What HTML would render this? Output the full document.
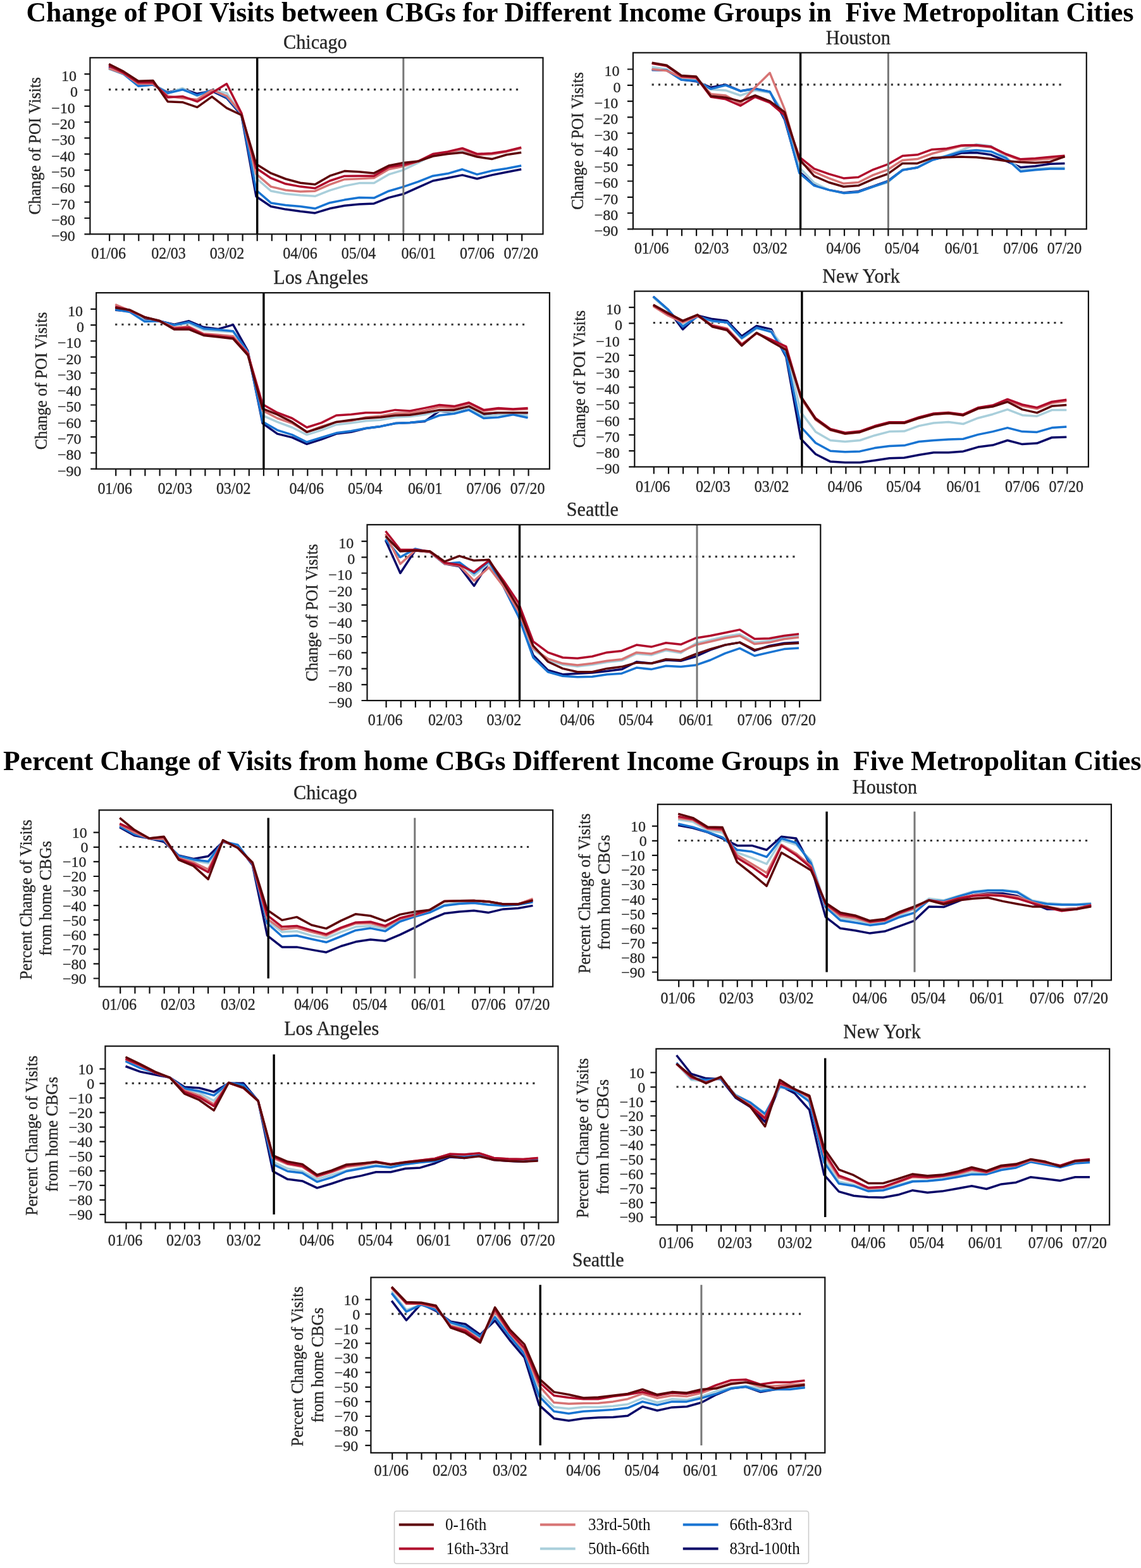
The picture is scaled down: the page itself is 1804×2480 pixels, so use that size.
<!DOCTYPE html>
<html><head><meta charset="utf-8"><title>Change of POI Visits</title>
<style>html,body{margin:0;padding:0;background:#fff;}svg{display:block;}#wrap{width:1804px;height:2480px;overflow:hidden;}</style>
</head><body><div id="wrap">
<svg width="1804" height="2480" viewBox="0 0 1804 2480">
<rect width="1804" height="2480" fill="#fff"/>
<text x="41.5" y="34" font-family="'Liberation Serif', 'Times New Roman', serif" font-weight="bold" font-size="43.6" fill="#000" textLength="1751" lengthAdjust="spacingAndGlyphs" xml:space="preserve">Change of POI Visits between CBGs for Different Income Groups in  Five Metropolitan Cities</text>
<text x="5" y="1218" font-family="'Liberation Serif', 'Times New Roman', serif" font-weight="bold" font-size="43.6" fill="#000" textLength="1799.5" lengthAdjust="spacingAndGlyphs" xml:space="preserve">Percent Change of Visits from home CBGs Different Income Groups in  Five Metropolitan Cities</text>
<g font-family="'Liberation Serif', 'Times New Roman', serif" font-size="24" fill="#262626" stroke="#262626" stroke-width="0.3"><text transform="translate(498.4,77.4) scale(1,1.035)" text-anchor="middle" font-size="30.2">Chicago</text><line x1="172" y1="141.6" x2="822.2" y2="141.6" stroke="#383838" stroke-width="3.1" stroke-dasharray="3.2 7.02"/><polyline points="172.1,105.8 195.4,115.9 218.7,134.9 242,133.9 265.3,146.3 288.5,140.5 311.8,148.3 335.1,144 358.4,155.2 381.7,182 405,310.8 428.3,326.5 451.6,331.1 474.9,334.3 498.1,336.9 521.4,329.8 544.7,325.2 568,323 591.3,321.9 614.6,312.6 637.9,306.8 661.2,296.4 684.5,286 707.8,281.5 731,276.9 754.3,282.7 777.6,276.9 800.9,272.3 824.2,267.8" fill="none" stroke="#0a0868" stroke-width="3.5" stroke-linejoin="round"/><polyline points="172.1,109.1 195.4,117.2 218.7,132.6 242,132.6 265.3,147.3 288.5,139.5 311.8,151.9 335.1,142.5 358.4,147.3 381.7,180.5 405,281.7 428.3,302 451.6,306.5 474.9,308.8 498.1,310.3 521.4,301.2 544.7,294.1 568,289.6 591.3,289.6 614.6,275.9 637.9,268.8 661.2,257.4 684.5,245 707.8,241.2 731,237.4 754.3,245 777.6,243.7 800.9,239.9 824.2,234.4" fill="none" stroke="#a9cfdb" stroke-width="3.5" stroke-linejoin="round"/><polyline points="172.1,108.1 195.4,117.2 218.7,136.2 242,133.9 265.3,147.3 288.5,141.7 311.8,150.6 335.1,142.5 358.4,153.9 381.7,180.5 405,300.7 428.3,320.9 451.6,324.5 474.9,326.5 498.1,329.8 521.4,320.7 544.7,316.1 568,312.6 591.3,313.1 614.6,302.2 637.9,295.4 661.2,287.3 684.5,278.2 707.8,274.6 731,267.8 754.3,275.9 777.6,270.1 800.9,266.5 824.2,262" fill="none" stroke="#1874d2" stroke-width="3.5" stroke-linejoin="round"/><polyline points="172.1,108.1 195.4,116.4 218.7,132.6 242,132.6 265.3,151.9 288.5,155.2 311.8,157.4 335.1,142.5 358.4,151.9 381.7,179.2 405,275.1 428.3,295.1 451.6,300.7 474.9,303 498.1,302.2 521.4,291.8 544.7,283.7 568,282.7 591.3,281.5 614.6,267.8 637.9,263 661.2,255.1 684.5,244.8 707.8,241.2 731,236.1 754.3,245 777.6,243.7 800.9,239.9 824.2,234.4" fill="none" stroke="#d77474" stroke-width="3.5" stroke-linejoin="round"/><polyline points="172.1,103.5 195.4,115.2 218.7,130.6 242,130.6 265.3,154.1 288.5,152.4 311.8,160.7 335.1,146.8 358.4,132.6 381.7,178.7 405,266 428.3,281.7 451.6,290.8 474.9,295.1 498.1,297.7 521.4,286 544.7,278.4 568,278.2 591.3,278.2 614.6,264.2 637.9,260.7 661.2,255.1 684.5,243.5 707.8,239.9 731,234.4 754.3,243.5 777.6,242.5 800.9,238.9 824.2,233.1" fill="none" stroke="#b00c2c" stroke-width="3.5" stroke-linejoin="round"/><polyline points="172.1,101.2 195.4,113.1 218.7,128.3 242,127.6 265.3,160.7 288.5,161.7 311.8,169.6 335.1,152.9 358.4,170.8 381.7,182 405,259.4 428.3,273.9 451.6,283 474.9,289.3 498.1,291.8 521.4,278.2 544.7,270.6 568,271.8 591.3,273.9 614.6,262 637.9,257.4 661.2,255.1 684.5,247 707.8,243.5 731,241.2 754.3,248 777.6,251.6 800.9,244.8 824.2,241.2" fill="none" stroke="#5e0509" stroke-width="3.5" stroke-linejoin="round"/><line x1="637.8" y1="91.3" x2="637.8" y2="370.3" stroke="#777" stroke-width="3"/><line x1="406.7" y1="91.3" x2="406.7" y2="370.3" stroke="#000" stroke-width="3.4"/><rect x="142.4" y="91.3" width="716.1" height="279" fill="none" stroke="#111" stroke-width="2.2"/><path d="M173.1 370.3v11M196.2 370.3v11M219.3 370.3v11M242.4 370.3v11M268 370.3v11M291.2 370.3v11M314.3 370.3v11M337.4 370.3v11M360.5 370.3v11M383.6 370.3v11M406.7 370.3v11M429.8 370.3v11M452.9 370.3v11M476 370.3v11M499.1 370.3v11M522.3 370.3v11M545.4 370.3v11M568.5 370.3v11M591.6 370.3v11M614.7 370.3v11M637.8 370.3v11M663.4 370.3v11M686.5 370.3v11M709.6 370.3v11M732.8 370.3v11M755.9 370.3v11M779 370.3v11M802.1 370.3v11M825.2 370.3v11M133.4 117.2h9M133.4 142.5h9M133.4 167.8h9M133.4 193.1h9M133.4 218.4h9M133.4 243.7h9M133.4 269.1h9M133.4 294.4h9M133.4 319.7h9M133.4 345h9M133.4 370.3h9" stroke="#111" stroke-width="2.2"/><text transform="translate(171.6,409.4) scale(1,1.04)" text-anchor="middle">01/06</text><text transform="translate(266.5,409.4) scale(1,1.04)" text-anchor="middle">02/03</text><text transform="translate(359,409.4) scale(1,1.04)" text-anchor="middle">03/02</text><text transform="translate(474.5,409.4) scale(1,1.04)" text-anchor="middle">04/06</text><text transform="translate(567,409.4) scale(1,1.04)" text-anchor="middle">05/04</text><text transform="translate(661.9,409.4) scale(1,1.04)" text-anchor="middle">06/01</text><text transform="translate(754.4,409.4) scale(1,1.04)" text-anchor="middle">07/06</text><text transform="translate(823.7,409.4) scale(1,1.04)" text-anchor="middle">07/20</text><text transform="translate(121.1,128)" text-anchor="end">10</text><text transform="translate(123.1,153.3)" text-anchor="end">0</text><text transform="translate(118.8,178.7)" text-anchor="end">−10</text><text transform="translate(118.8,204)" text-anchor="end">−20</text><text transform="translate(118.8,229.3)" text-anchor="end">−30</text><text transform="translate(118.8,254.6)" text-anchor="end">−40</text><text transform="translate(118.8,279.9)" text-anchor="end">−50</text><text transform="translate(118.8,305.2)" text-anchor="end">−60</text><text transform="translate(118.8,330.5)" text-anchor="end">−70</text><text transform="translate(118.8,355.8)" text-anchor="end">−80</text><text transform="translate(118.8,381.1)" text-anchor="end">−90</text><text transform="translate(63.9,230.8) rotate(-90) scale(1,1.03)" text-anchor="middle" font-size="25.6">Change of POI Visits</text></g>
<g font-family="'Liberation Serif', 'Times New Roman', serif" font-size="24" fill="#262626" stroke="#262626" stroke-width="0.3"><text transform="translate(1356.8,69.5) scale(1,1.035)" text-anchor="middle" font-size="30.2">Houston</text><line x1="1030.6" y1="133.9" x2="1681.5" y2="133.9" stroke="#383838" stroke-width="3.1" stroke-dasharray="3.2 7.02"/><polyline points="1030.7,110.5 1054,111 1077.3,125.7 1100.6,128.7 1124,138.3 1147.3,134 1170.6,143.9 1193.9,140.1 1217.2,145.2 1240.5,188.9 1263.8,271.8 1287.2,292 1310.5,300.4 1333.8,304.7 1357.1,302.7 1380.4,294.6 1403.7,286.5 1427,268.8 1450.4,265 1473.7,252.4 1497,248.1 1520.3,242 1543.6,241.5 1566.9,244.8 1590.2,254.4 1613.6,264.7 1636.9,262.7 1660.2,259.2 1683.5,258.4" fill="none" stroke="#0a0868" stroke-width="3.5" stroke-linejoin="round"/><polyline points="1030.7,106 1054,109.5 1077.3,124.4 1100.6,125.7 1124,141.6 1147.3,142.9 1170.6,151 1193.9,142.9 1217.2,146.4 1240.5,179.8 1263.8,265 1287.2,289 1310.5,300.4 1333.8,305.4 1357.1,303.7 1380.4,295.3 1403.7,288.5 1427,268.3 1450.4,265 1473.7,251.6 1497,246 1520.3,237.4 1543.6,228.3 1566.9,230.9 1590.2,248.1 1613.6,269.3 1636.9,267 1660.2,265.2 1683.5,265.2" fill="none" stroke="#a9cfdb" stroke-width="3.5" stroke-linejoin="round"/><polyline points="1030.7,110.5 1054,111 1077.3,126.2 1100.6,128 1124,140.6 1147.3,134.8 1170.6,143.9 1193.9,140.6 1217.2,145.2 1240.5,186.6 1263.8,273.6 1287.2,293.6 1310.5,300.4 1333.8,305.4 1357.1,303.7 1380.4,295.3 1403.7,287 1427,269 1450.4,265 1473.7,253.4 1497,246.8 1520.3,239.7 1543.6,237.4 1566.9,239.7 1590.2,249.8 1613.6,271.3 1636.9,268.8 1660.2,267 1683.5,267" fill="none" stroke="#1874d2" stroke-width="3.5" stroke-linejoin="round"/><polyline points="1030.7,109.5 1054,111.8 1077.3,122.2 1100.6,123.4 1124,148.7 1147.3,151 1170.6,163.6 1193.9,138.3 1217.2,115.3 1240.5,172.7 1263.8,254.9 1287.2,271.8 1310.5,281.9 1333.8,290.3 1357.1,288.5 1380.4,276.9 1403.7,268.3 1427,253.4 1450.4,251.6 1473.7,243 1497,236.7 1520.3,230.9 1543.6,230.4 1566.9,232.9 1590.2,244.3 1613.6,253.6 1636.9,253.1 1660.2,251.1 1683.5,247.5" fill="none" stroke="#d77474" stroke-width="3.5" stroke-linejoin="round"/><polyline points="1030.7,100.2 1054,104.2 1077.3,120.4 1100.6,122.2 1124,153.3 1147.3,156.8 1170.6,167.2 1193.9,153.3 1217.2,162.4 1240.5,182.1 1263.8,248.3 1287.2,266.8 1310.5,275.1 1333.8,281.9 1357.1,280.2 1380.4,268.3 1403.7,259.9 1427,246.5 1450.4,244.8 1473.7,236.4 1497,234.9 1520.3,229.9 1543.6,229.6 1566.9,232.1 1590.2,243.5 1613.6,251.8 1636.9,250.6 1660.2,248.3 1683.5,246.3" fill="none" stroke="#b00c2c" stroke-width="3.5" stroke-linejoin="round"/><polyline points="1030.7,99.2 1054,103.2 1077.3,119.4 1100.6,120.9 1124,152 1147.3,154.3 1170.6,160.1 1193.9,151 1217.2,160.1 1240.5,177.3 1263.8,251.6 1287.2,278.4 1310.5,288.5 1333.8,295.3 1357.1,293.6 1380.4,283.4 1403.7,275.1 1427,258.4 1450.4,258.4 1473.7,249.8 1497,248.8 1520.3,248.1 1543.6,248.8 1566.9,251.3 1590.2,254.4 1613.6,256.6 1636.9,257.4 1660.2,255.9 1683.5,247.5" fill="none" stroke="#5e0509" stroke-width="3.5" stroke-linejoin="round"/><line x1="1404.4" y1="83.4" x2="1404.4" y2="362.3" stroke="#777" stroke-width="3"/><line x1="1265.6" y1="83.4" x2="1265.6" y2="362.3" stroke="#000" stroke-width="3.4"/><rect x="1000.9" y="83.4" width="716.9" height="278.9" fill="none" stroke="#111" stroke-width="2.2"/><path d="M1031.7 362.3v11M1054.8 362.3v11M1078 362.3v11M1101.1 362.3v11M1126.7 362.3v11M1149.9 362.3v11M1173 362.3v11M1196.2 362.3v11M1219.3 362.3v11M1242.4 362.3v11M1265.6 362.3v11M1288.7 362.3v11M1311.8 362.3v11M1335 362.3v11M1358.1 362.3v11M1381.2 362.3v11M1404.4 362.3v11M1427.5 362.3v11M1450.6 362.3v11M1473.8 362.3v11M1496.9 362.3v11M1522.5 362.3v11M1545.7 362.3v11M1568.8 362.3v11M1592 362.3v11M1615.1 362.3v11M1638.2 362.3v11M1661.4 362.3v11M1684.5 362.3v11M991.9 109.5h9M991.9 134.8h9M991.9 160.1h9M991.9 185.4h9M991.9 210.6h9M991.9 235.9h9M991.9 261.2h9M991.9 286.5h9M991.9 311.8h9M991.9 337h9M991.9 362.3h9" stroke="#111" stroke-width="2.2"/><text transform="translate(1030.2,401.4) scale(1,1.04)" text-anchor="middle">01/06</text><text transform="translate(1125.2,401.4) scale(1,1.04)" text-anchor="middle">02/03</text><text transform="translate(1217.8,401.4) scale(1,1.04)" text-anchor="middle">03/02</text><text transform="translate(1333.5,401.4) scale(1,1.04)" text-anchor="middle">04/06</text><text transform="translate(1426,401.4) scale(1,1.04)" text-anchor="middle">05/04</text><text transform="translate(1521,401.4) scale(1,1.04)" text-anchor="middle">06/01</text><text transform="translate(1613.6,401.4) scale(1,1.04)" text-anchor="middle">07/06</text><text transform="translate(1683,401.4) scale(1,1.04)" text-anchor="middle">07/20</text><text transform="translate(979.6,120.4)" text-anchor="end">10</text><text transform="translate(981.6,145.7)" text-anchor="end">0</text><text transform="translate(977.3,170.9)" text-anchor="end">−10</text><text transform="translate(977.3,196.2)" text-anchor="end">−20</text><text transform="translate(977.3,221.5)" text-anchor="end">−30</text><text transform="translate(977.3,246.8)" text-anchor="end">−40</text><text transform="translate(977.3,272.1)" text-anchor="end">−50</text><text transform="translate(977.3,297.3)" text-anchor="end">−60</text><text transform="translate(977.3,322.6)" text-anchor="end">−70</text><text transform="translate(977.3,347.9)" text-anchor="end">−80</text><text transform="translate(977.3,373.2)" text-anchor="end">−90</text><text transform="translate(922.4,222.9) rotate(-90) scale(1,1.03)" text-anchor="middle" font-size="25.6">Change of POI Visits</text></g>
<g font-family="'Liberation Serif', 'Times New Roman', serif" font-size="24" fill="#262626" stroke="#262626" stroke-width="0.3"><text transform="translate(507.3,449.2) scale(1,1.035)" text-anchor="middle" font-size="30.2">Los Angeles</text><line x1="182.1" y1="513.2" x2="832.6" y2="513.2" stroke="#383838" stroke-width="3.1" stroke-dasharray="3.2 7.02"/><polyline points="182.2,490.3 205.5,492.4 228.8,506 252.1,507.8 275.4,513.3 298.7,507.8 322,517.6 345.3,520.4 368.6,513.6 391.9,555.1 415.2,669.6 438.5,686.1 461.8,691.9 485.1,702.3 508.4,694.9 531.7,686.1 555,683.3 578.3,677.5 601.6,674.4 624.9,669.6 648.2,668.6 671.5,666.6 694.8,649.9 718.1,652.7 741.4,644.1 764.7,655.7 788,652.7 811.3,652.7 834.6,652.7" fill="none" stroke="#0a0868" stroke-width="3.5" stroke-linejoin="round"/><polyline points="182.2,484.3 205.5,491.3 228.8,507.3 252.1,508.5 275.4,514.1 298.7,511.3 322,522.2 345.3,523.7 368.6,525 391.9,557.1 415.2,657.2 438.5,667.4 461.8,676 485.1,687.6 508.4,680.3 531.7,671.7 555,668.9 578.3,665.8 601.6,664.3 624.9,660 648.2,658.8 671.5,655.7 694.8,649.9 718.1,651.4 741.4,644.1 764.7,658.5 788,655.7 811.3,654.5 834.6,657.2" fill="none" stroke="#a9cfdb" stroke-width="3.5" stroke-linejoin="round"/><polyline points="182.2,489.6 205.5,493.6 228.8,508.5 252.1,507.8 275.4,514.1 298.7,509.5 322,519.7 345.3,521.4 368.6,523.7 391.9,556.6 415.2,666.9 438.5,680.3 461.8,687.6 485.1,699.2 508.4,691.9 531.7,684.8 555,681.8 578.3,677.5 601.6,674.4 624.9,669.6 648.2,668.6 671.5,665.8 694.8,657 718.1,654.2 741.4,648.4 764.7,661.5 788,660 811.3,655.7 834.6,660.8" fill="none" stroke="#1874d2" stroke-width="3.5" stroke-linejoin="round"/><polyline points="182.2,481.5 205.5,491.3 228.8,501.7 252.1,507.8 275.4,518.1 298.7,516.6 322,527.8 345.3,529.5 368.6,531.8 391.9,558.4 415.2,649.1 438.5,661.5 461.8,669.6 485.1,683.3 508.4,674.4 531.7,667.4 555,665.6 578.3,660 601.6,658 624.9,653.7 648.2,653.2 671.5,649.4 694.8,643.6 718.1,645.1 741.4,638.3 764.7,649.9 788,646.9 811.3,648.1 834.6,646.9" fill="none" stroke="#d77474" stroke-width="3.5" stroke-linejoin="round"/><polyline points="182.2,485.3 205.5,490.8 228.8,501.7 252.1,507.8 275.4,519.7 298.7,518.1 322,529.3 345.3,531.8 368.6,534.6 391.9,559.6 415.2,639.5 438.5,652.7 461.8,661.5 485.1,676 508.4,668.6 531.7,657 555,655.5 578.3,652.7 601.6,652.7 624.9,648.4 648.2,649.9 671.5,645.4 694.8,640.5 718.1,642.6 741.4,636.8 764.7,648.4 788,645.4 811.3,646.9 834.6,645.4" fill="none" stroke="#b00c2c" stroke-width="3.5" stroke-linejoin="round"/><polyline points="182.2,486.8 205.5,490.3 228.8,501.7 252.1,507.3 275.4,520.9 298.7,520.9 322,530.5 345.3,533.1 368.6,535.8 391.9,561.9 415.2,646.4 438.5,655.7 461.8,667.4 485.1,683.3 508.4,676 531.7,667.4 555,664.3 578.3,661.5 601.6,660 624.9,657 648.2,656.2 671.5,652.7 694.8,648.4 718.1,648.4 741.4,642.6 764.7,654.2 788,652.7 811.3,652.7 834.6,652.7" fill="none" stroke="#5e0509" stroke-width="3.5" stroke-linejoin="round"/><line x1="416.9" y1="463.1" x2="416.9" y2="741.7" stroke="#000" stroke-width="3.4"/><rect x="152.2" y="463.1" width="716.7" height="278.6" fill="none" stroke="#111" stroke-width="2.2"/><path d="M183.2 741.7v11M206.3 741.7v11M229.4 741.7v11M252.6 741.7v11M278.2 741.7v11M301.3 741.7v11M324.4 741.7v11M347.6 741.7v11M370.7 741.7v11M393.8 741.7v11M416.9 741.7v11M440 741.7v11M463.2 741.7v11M486.3 741.7v11M509.4 741.7v11M532.5 741.7v11M555.6 741.7v11M578.8 741.7v11M601.9 741.7v11M625 741.7v11M648.1 741.7v11M673.8 741.7v11M696.9 741.7v11M720 741.7v11M743.1 741.7v11M766.2 741.7v11M789.4 741.7v11M812.5 741.7v11M835.6 741.7v11M143.2 488.8h9M143.2 514.1h9M143.2 539.4h9M143.2 564.7h9M143.2 590h9M143.2 615.3h9M143.2 640.5h9M143.2 665.8h9M143.2 691.1h9M143.2 716.4h9M143.2 741.7h9" stroke="#111" stroke-width="2.2"/><text transform="translate(181.7,780.8) scale(1,1.04)" text-anchor="middle">01/06</text><text transform="translate(276.7,780.8) scale(1,1.04)" text-anchor="middle">02/03</text><text transform="translate(369.2,780.8) scale(1,1.04)" text-anchor="middle">03/02</text><text transform="translate(484.8,780.8) scale(1,1.04)" text-anchor="middle">04/06</text><text transform="translate(577.3,780.8) scale(1,1.04)" text-anchor="middle">05/04</text><text transform="translate(672.2,780.8) scale(1,1.04)" text-anchor="middle">06/01</text><text transform="translate(764.7,780.8) scale(1,1.04)" text-anchor="middle">07/06</text><text transform="translate(834.1,780.8) scale(1,1.04)" text-anchor="middle">07/20</text><text transform="translate(130.9,499.7)" text-anchor="end">10</text><text transform="translate(132.9,525)" text-anchor="end">0</text><text transform="translate(128.6,550.2)" text-anchor="end">−10</text><text transform="translate(128.6,575.5)" text-anchor="end">−20</text><text transform="translate(128.6,600.8)" text-anchor="end">−30</text><text transform="translate(128.6,626.1)" text-anchor="end">−40</text><text transform="translate(128.6,651.4)" text-anchor="end">−50</text><text transform="translate(128.6,676.7)" text-anchor="end">−60</text><text transform="translate(128.6,702)" text-anchor="end">−70</text><text transform="translate(128.6,727.3)" text-anchor="end">−80</text><text transform="translate(128.6,752.6)" text-anchor="end">−90</text><text transform="translate(73.7,602.4) rotate(-90) scale(1,1.03)" text-anchor="middle" font-size="25.6">Change of POI Visits</text></g>
<g font-family="'Liberation Serif', 'Times New Roman', serif" font-size="24" fill="#262626" stroke="#262626" stroke-width="0.3"><text transform="translate(1361.5,446.7) scale(1,1.035)" text-anchor="middle" font-size="30.2">New York</text><line x1="1032.7" y1="510.5" x2="1684.3" y2="510.5" stroke="#383838" stroke-width="3.1" stroke-dasharray="3.2 7.02"/><polyline points="1032.8,469 1056.1,489.5 1079.5,521 1102.8,499 1126.2,504.6 1149.5,507.4 1172.8,531.8 1196.2,515.4 1219.5,521 1242.9,564.4 1266.2,694 1289.5,718.2 1312.9,730.1 1336.2,731.6 1359.5,731.6 1382.9,728.3 1406.2,724.8 1429.6,724 1452.9,719.5 1476.2,715.7 1499.6,715.7 1522.9,713.9 1546.3,707.1 1569.6,704.1 1592.9,696.5 1616.3,702.6 1639.6,701.1 1663,692 1686.3,691.2" fill="none" stroke="#0a0868" stroke-width="3.5" stroke-linejoin="round"/><polyline points="1032.8,470.5 1056.1,490.7 1079.5,513.9 1102.8,500.1 1126.2,508.6 1149.5,509.9 1172.8,535.9 1196.2,519.5 1219.5,523.8 1242.9,553.5 1266.2,651.9 1289.5,682.9 1312.9,696.5 1336.2,698.5 1359.5,696.5 1382.9,688.7 1406.2,682.6 1429.6,682.1 1452.9,673.6 1476.2,669 1499.6,667.5 1522.9,670.5 1546.3,661.2 1569.6,655.2 1592.9,647.6 1616.3,656.7 1639.6,658.2 1663,648.6 1686.3,648.6" fill="none" stroke="#a9cfdb" stroke-width="3.5" stroke-linejoin="round"/><polyline points="1032.8,469 1056.1,489.5 1079.5,516.7 1102.8,500.6 1126.2,507.4 1149.5,509.9 1172.8,534.6 1196.2,518.2 1219.5,525 1242.9,561.8 1266.2,675.1 1289.5,700.5 1312.9,713.2 1336.2,714.7 1359.5,713.9 1382.9,708.6 1406.2,705.6 1429.6,704.6 1452.9,698.5 1476.2,696.5 1499.6,695 1522.9,694.2 1546.3,687.4 1569.6,682.6 1592.9,676.6 1616.3,682.6 1639.6,683.4 1663,676.6 1686.3,675.1" fill="none" stroke="#1874d2" stroke-width="3.5" stroke-linejoin="round"/><polyline points="1032.8,484.2 1056.1,499 1079.5,509.9 1102.8,499.8 1126.2,514.2 1149.5,519.5 1172.8,543.9 1196.2,527.5 1219.5,537.4 1242.9,551 1266.2,629.9 1289.5,664 1312.9,680.4 1336.2,686.2 1359.5,683.7 1382.9,675.3 1406.2,669.3 1429.6,669.3 1452.9,661.5 1476.2,655.4 1499.6,653.9 1522.9,656.9 1546.3,646.3 1569.6,642.5 1592.9,633 1616.3,642 1639.6,646.6 1663,637.5 1686.3,634.2" fill="none" stroke="#d77474" stroke-width="3.5" stroke-linejoin="round"/><polyline points="1032.8,482.6 1056.1,496.3 1079.5,507.9 1102.8,498.5 1126.2,515.4 1149.5,521 1172.8,545.4 1196.2,526.8 1219.5,537.4 1242.9,548.2 1266.2,627.2 1289.5,661.5 1312.9,678.4 1336.2,684.4 1359.5,682.1 1382.9,673.8 1406.2,667.8 1429.6,667.8 1452.9,659.9 1476.2,653.9 1499.6,652.4 1522.9,655.4 1546.3,644.8 1569.6,641 1592.9,631.4 1616.3,640 1639.6,644.6 1663,635.5 1686.3,632.2" fill="none" stroke="#b00c2c" stroke-width="3.5" stroke-linejoin="round"/><polyline points="1032.8,482.1 1056.1,495 1079.5,507.4 1102.8,497.8 1126.2,516.7 1149.5,522.2 1172.8,546.7 1196.2,526.3 1219.5,540.2 1242.9,553.5 1266.2,627.2 1289.5,662.7 1312.9,679.6 1336.2,685.7 1359.5,683.4 1382.9,675.1 1406.2,669 1429.6,669 1452.9,661.2 1476.2,655.2 1499.6,653.6 1522.9,656.7 1546.3,646.1 1569.6,643 1592.9,635.5 1616.3,647.6 1639.6,652.9 1663,642.3 1686.3,640.5" fill="none" stroke="#5e0509" stroke-width="3.5" stroke-linejoin="round"/><line x1="1267.9" y1="460.6" x2="1267.9" y2="738.4" stroke="#000" stroke-width="3.4"/><rect x="1003.3" y="460.6" width="717.6" height="277.8" fill="none" stroke="#111" stroke-width="2.2"/><path d="M1033.8 738.4v11M1057 738.4v11M1080.1 738.4v11M1103.3 738.4v11M1128.9 738.4v11M1152.1 738.4v11M1175.3 738.4v11M1198.4 738.4v11M1221.6 738.4v11M1244.7 738.4v11M1267.9 738.4v11M1291.1 738.4v11M1314.2 738.4v11M1337.4 738.4v11M1360.5 738.4v11M1383.7 738.4v11M1406.9 738.4v11M1430 738.4v11M1453.2 738.4v11M1476.4 738.4v11M1499.5 738.4v11M1525.2 738.4v11M1548.3 738.4v11M1571.5 738.4v11M1594.7 738.4v11M1617.8 738.4v11M1641 738.4v11M1664.1 738.4v11M1687.3 738.4v11M994.3 486.2h9M994.3 511.4h9M994.3 536.6h9M994.3 561.8h9M994.3 587.1h9M994.3 612.3h9M994.3 637.5h9M994.3 662.7h9M994.3 687.9h9M994.3 713.2h9M994.3 738.4h9" stroke="#111" stroke-width="2.2"/><text transform="translate(1032.3,777.5) scale(1,1.04)" text-anchor="middle">01/06</text><text transform="translate(1127.4,777.5) scale(1,1.04)" text-anchor="middle">02/03</text><text transform="translate(1220.1,777.5) scale(1,1.04)" text-anchor="middle">03/02</text><text transform="translate(1335.9,777.5) scale(1,1.04)" text-anchor="middle">04/06</text><text transform="translate(1428.5,777.5) scale(1,1.04)" text-anchor="middle">05/04</text><text transform="translate(1523.7,777.5) scale(1,1.04)" text-anchor="middle">06/01</text><text transform="translate(1616.3,777.5) scale(1,1.04)" text-anchor="middle">07/06</text><text transform="translate(1685.8,777.5) scale(1,1.04)" text-anchor="middle">07/20</text><text transform="translate(982,497)" text-anchor="end">10</text><text transform="translate(984,522.2)" text-anchor="end">0</text><text transform="translate(979.7,547.5)" text-anchor="end">−10</text><text transform="translate(979.7,572.7)" text-anchor="end">−20</text><text transform="translate(979.7,597.9)" text-anchor="end">−30</text><text transform="translate(979.7,623.1)" text-anchor="end">−40</text><text transform="translate(979.7,648.4)" text-anchor="end">−50</text><text transform="translate(979.7,673.6)" text-anchor="end">−60</text><text transform="translate(979.7,698.8)" text-anchor="end">−70</text><text transform="translate(979.7,724)" text-anchor="end">−80</text><text transform="translate(979.7,749.2)" text-anchor="end">−90</text><text transform="translate(924.8,599.5) rotate(-90) scale(1,1.03)" text-anchor="middle" font-size="25.6">Change of POI Visits</text></g>
<g font-family="'Liberation Serif', 'Times New Roman', serif" font-size="24" fill="#262626" stroke="#262626" stroke-width="0.3"><text transform="translate(936.9,816) scale(1,1.035)" text-anchor="middle" font-size="30.2">Seattle</text><line x1="609.5" y1="880.4" x2="1261.1" y2="880.4" stroke="#383838" stroke-width="3.1" stroke-dasharray="3.2 7.02"/><polyline points="609.6,854.6 632.9,906.5 656.3,870.7 679.6,873.2 703,891.9 726.3,895.9 749.6,926.6 773,889.4 796.3,927.9 819.7,974.5 843,1036.2 866.3,1059.9 889.7,1066.7 913,1065.2 936.3,1063.9 959.7,1061.4 983,1058.6 1006.4,1046.8 1029.7,1049.3 1053,1044 1076.4,1045.3 1099.7,1038.5 1123.1,1027.9 1146.4,1020.1 1169.7,1016.1 1193.1,1029.2 1216.4,1021.4 1239.8,1017.3 1263.1,1016.1" fill="none" stroke="#0a0868" stroke-width="3.5" stroke-linejoin="round"/><polyline points="609.6,851.1 632.9,881.3 656.3,868.7 679.6,873.2 703,891.4 726.3,890.6 749.6,910.5 773,890.6 796.3,927.9 819.7,972 843,1027.4 866.3,1044 889.7,1051.3 913,1054.1 936.3,1051.3 959.7,1047.3 983,1044.8 1006.4,1034 1029.7,1036 1053,1028.7 1076.4,1032.7 1099.7,1017.6 1123.1,1012.3 1146.4,1006.7 1169.7,1003 1193.1,1016.1 1216.4,1013.5 1239.8,1008.3 1263.1,1005.5" fill="none" stroke="#a9cfdb" stroke-width="3.5" stroke-linejoin="round"/><polyline points="609.6,853.3 632.9,881.3 656.3,867.9 679.6,873.2 703,891.4 726.3,889.4 749.6,906.7 773,888.1 796.3,927.9 819.7,974.5 843,1040 866.3,1062.7 889.7,1069.2 913,1070.7 936.3,1070.2 959.7,1066.7 983,1065.2 1006.4,1056.1 1029.7,1058.6 1053,1053.3 1076.4,1054.6 1099.7,1052.1 1123.1,1044 1146.4,1033.4 1169.7,1025.4 1193.1,1037.2 1216.4,1031.9 1239.8,1026.6 1263.1,1024.9" fill="none" stroke="#1874d2" stroke-width="3.5" stroke-linejoin="round"/><polyline points="609.6,844.8 632.9,891.9 656.3,870.7 679.6,873.2 703,891.4 726.3,894.7 749.6,918.6 773,897.4 796.3,927.9 819.7,966.7 843,1025.4 866.3,1042 889.7,1049.3 913,1052.1 936.3,1049.3 959.7,1045.3 983,1042.8 1006.4,1031.9 1029.7,1034 1053,1026.6 1076.4,1030.7 1099.7,1020.1 1123.1,1014.8 1146.4,1009.3 1169.7,1005.5 1193.1,1018.6 1216.4,1016.1 1239.8,1010.8 1263.1,1008" fill="none" stroke="#d77474" stroke-width="3.5" stroke-linejoin="round"/><polyline points="609.6,840 632.9,869.5 656.3,869.5 679.6,872 703,890.1 726.3,893.4 749.6,904.7 773,886.6 796.3,918.6 819.7,953.3 843,1014.6 866.3,1031.9 889.7,1040 913,1041.3 936.3,1038.2 959.7,1031.9 983,1029.4 1006.4,1020.1 1029.7,1023.1 1053,1016.8 1076.4,1019.3 1099.7,1009.3 1123.1,1005.5 1146.4,1000.7 1169.7,995.9 1193.1,1010.5 1216.4,1009.8 1239.8,1005.5 1263.1,1002.7" fill="none" stroke="#b00c2c" stroke-width="3.5" stroke-linejoin="round"/><polyline points="609.6,848 632.9,872 656.3,870.7 679.6,872 703,888.1 726.3,879.3 749.6,886.6 773,885.3 796.3,922.6 819.7,961.4 843,1021.4 866.3,1046.5 889.7,1057.4 913,1062.7 936.3,1062.7 959.7,1057.4 983,1054.6 1006.4,1048.1 1029.7,1049.3 1053,1042.8 1076.4,1044 1099.7,1034.7 1123.1,1026.6 1146.4,1020.1 1169.7,1016.1 1193.1,1027.9 1216.4,1022.6 1239.8,1018.6 1263.1,1017.3" fill="none" stroke="#5e0509" stroke-width="3.5" stroke-linejoin="round"/><line x1="1102" y1="829.9" x2="1102" y2="1108" stroke="#777" stroke-width="3"/><line x1="821.5" y1="829.9" x2="821.5" y2="1108" stroke="#000" stroke-width="3.4"/><rect x="580.5" y="829.9" width="716.8" height="278.1" fill="none" stroke="#111" stroke-width="2.2"/><path d="M610.6 1108v11M633.8 1108v11M656.9 1108v11M680.1 1108v11M705.7 1108v11M728.9 1108v11M752.1 1108v11M775.2 1108v11M798.4 1108v11M821.5 1108v11M844.7 1108v11M867.9 1108v11M891 1108v11M914.2 1108v11M937.3 1108v11M960.5 1108v11M983.7 1108v11M1006.8 1108v11M1030 1108v11M1053.2 1108v11M1076.3 1108v11M1102 1108v11M1125.1 1108v11M1148.3 1108v11M1171.5 1108v11M1194.6 1108v11M1217.8 1108v11M1240.9 1108v11M1264.1 1108v11M571.5 856.1h9M571.5 881.3h9M571.5 906.5h9M571.5 931.7h9M571.5 956.9h9M571.5 982.1h9M571.5 1007.2h9M571.5 1032.4h9M571.5 1057.6h9M571.5 1082.8h9M571.5 1108h9" stroke="#111" stroke-width="2.2"/><text transform="translate(609.1,1147.1) scale(1,1.04)" text-anchor="middle">01/06</text><text transform="translate(704.2,1147.1) scale(1,1.04)" text-anchor="middle">02/03</text><text transform="translate(796.9,1147.1) scale(1,1.04)" text-anchor="middle">03/02</text><text transform="translate(912.7,1147.1) scale(1,1.04)" text-anchor="middle">04/06</text><text transform="translate(1005.3,1147.1) scale(1,1.04)" text-anchor="middle">05/04</text><text transform="translate(1100.5,1147.1) scale(1,1.04)" text-anchor="middle">06/01</text><text transform="translate(1193.1,1147.1) scale(1,1.04)" text-anchor="middle">07/06</text><text transform="translate(1262.6,1147.1) scale(1,1.04)" text-anchor="middle">07/20</text><text transform="translate(559.2,867)" text-anchor="end">10</text><text transform="translate(561.2,892.1)" text-anchor="end">0</text><text transform="translate(556.9,917.3)" text-anchor="end">−10</text><text transform="translate(556.9,942.5)" text-anchor="end">−20</text><text transform="translate(556.9,967.7)" text-anchor="end">−30</text><text transform="translate(556.9,992.9)" text-anchor="end">−40</text><text transform="translate(556.9,1018.1)" text-anchor="end">−50</text><text transform="translate(556.9,1043.3)" text-anchor="end">−60</text><text transform="translate(556.9,1068.5)" text-anchor="end">−70</text><text transform="translate(556.9,1093.7)" text-anchor="end">−80</text><text transform="translate(556.9,1118.9)" text-anchor="end">−90</text><text transform="translate(502,969) rotate(-90) scale(1,1.03)" text-anchor="middle" font-size="25.6">Change of POI Visits</text></g>
<g font-family="'Liberation Serif', 'Times New Roman', serif" font-size="24" fill="#262626" stroke="#262626" stroke-width="0.3"><text transform="translate(514.3,1264) scale(1,1.035)" text-anchor="middle" font-size="30.2">Chicago</text><line x1="189.1" y1="1339.5" x2="840.5" y2="1339.5" stroke="#383838" stroke-width="3.1" stroke-dasharray="3.2 7.02"/><polyline points="189.2,1308.4 212.5,1321.6 235.9,1326 259.2,1331.5 282.5,1353 305.9,1358.5 329.2,1354.3 352.5,1331.5 375.9,1337.5 399.2,1368.2 422.5,1479.7 445.9,1497.9 469.2,1497.9 492.5,1502.1 515.8,1506.2 539.2,1496.5 562.5,1489.6 585.8,1485.9 609.2,1488.2 632.5,1478.3 655.8,1467.2 679.2,1454.7 702.5,1444.8 725.8,1442 749.2,1440.2 772.5,1443.4 795.8,1437.9 819.2,1436.5 842.5,1432.4" fill="none" stroke="#0a0868" stroke-width="3.5" stroke-linejoin="round"/><polyline points="189.2,1305.2 212.5,1317.9 235.9,1326 259.2,1328.3 282.5,1355.7 305.9,1361.3 329.2,1365.4 352.5,1330.6 375.9,1338.6 399.2,1366.3 422.5,1456.1 445.9,1474.1 469.2,1472.7 492.5,1479.7 515.8,1483.8 539.2,1474.1 562.5,1465.8 585.8,1464.4 609.2,1468.6 632.5,1456.1 655.8,1449 679.2,1442 702.5,1431 725.8,1427.5 749.2,1427.5 772.5,1431 795.8,1430 819.2,1429.6 842.5,1424" fill="none" stroke="#a9cfdb" stroke-width="3.5" stroke-linejoin="round"/><polyline points="189.2,1306.8 212.5,1319.5 235.9,1326 259.2,1329.2 282.5,1353.6 305.9,1359.4 329.2,1362.6 352.5,1331 375.9,1336.1 399.2,1367 422.5,1460.3 445.9,1481 469.2,1479.7 492.5,1485.2 515.8,1490.3 539.2,1481 562.5,1471.4 585.8,1468.1 609.2,1472.7 632.5,1457.5 655.8,1449.9 679.2,1443.4 702.5,1432.4 725.8,1429.6 749.2,1428.2 772.5,1431 795.8,1432.4 819.2,1431 842.5,1426.8" fill="none" stroke="#1874d2" stroke-width="3.5" stroke-linejoin="round"/><polyline points="189.2,1304 212.5,1316.7 235.9,1326 259.2,1327.1 282.5,1357.1 305.9,1364 329.2,1375.1 352.5,1329.9 375.9,1340.5 399.2,1365.4 422.5,1453.4 445.9,1470 469.2,1467.2 492.5,1474.1 515.8,1479.7 539.2,1468.6 562.5,1460.7 585.8,1460.3 609.2,1466.3 632.5,1453.4 655.8,1447.6 679.2,1439.3 702.5,1425.4 725.8,1424.7 749.2,1424.5 772.5,1426.1 795.8,1430 819.2,1430 842.5,1421.3" fill="none" stroke="#d77474" stroke-width="3.5" stroke-linejoin="round"/><polyline points="189.2,1302.6 212.5,1313.3 235.9,1326 259.2,1324.1 282.5,1358.5 305.9,1366.8 329.2,1379.5 352.5,1329.4 375.9,1341 399.2,1365.4 422.5,1447.6 445.9,1465.8 469.2,1464.4 492.5,1471.4 515.8,1477.6 539.2,1467.2 562.5,1458.9 585.8,1458 609.2,1464.4 632.5,1452 655.8,1446.2 679.2,1439.3 702.5,1425.4 725.8,1424.7 749.2,1424.5 772.5,1426.1 795.8,1430 819.2,1430 842.5,1424" fill="none" stroke="#b00c2c" stroke-width="3.5" stroke-linejoin="round"/><polyline points="189.2,1293.6 212.5,1312.6 235.9,1326 259.2,1323.2 282.5,1359.9 305.9,1369.6 329.2,1390.6 352.5,1328.7 375.9,1341 399.2,1364 422.5,1439.3 445.9,1455.4 469.2,1450.4 492.5,1463 515.8,1468.6 539.2,1456.1 562.5,1445.7 585.8,1448.5 609.2,1456.8 632.5,1446.4 655.8,1442 679.2,1439.3 702.5,1425.4 725.8,1424.7 749.2,1424.5 772.5,1426.1 795.8,1430 819.2,1430 842.5,1424" fill="none" stroke="#5e0509" stroke-width="3.5" stroke-linejoin="round"/><line x1="655.8" y1="1293.6" x2="655.8" y2="1547.5" stroke="#777" stroke-width="3"/><line x1="424.2" y1="1293.6" x2="424.2" y2="1547.5" stroke="#000" stroke-width="3.4"/><rect x="156.7" y="1281.3" width="717.4" height="279.3" fill="none" stroke="#111" stroke-width="2.2"/><path d="M190.2 1560.6v11M213.4 1560.6v11M236.5 1560.6v11M259.7 1560.6v11M282.8 1560.6v11M306 1560.6v11M329.1 1560.6v11M354.8 1560.6v11M377.9 1560.6v11M401.1 1560.6v11M424.2 1560.6v11M447.4 1560.6v11M470.5 1560.6v11M493.7 1560.6v11M516.8 1560.6v11M540 1560.6v11M563.2 1560.6v11M586.3 1560.6v11M609.5 1560.6v11M632.6 1560.6v11M655.8 1560.6v11M678.9 1560.6v11M702.1 1560.6v11M725.2 1560.6v11M750.9 1560.6v11M774 1560.6v11M797.2 1560.6v11M820.3 1560.6v11M843.5 1560.6v11M147.7 1316.7h9M147.7 1339.8h9M147.7 1362.9h9M147.7 1386h9M147.7 1409h9M147.7 1432.1h9M147.7 1455.2h9M147.7 1478.3h9M147.7 1501.4h9M147.7 1524.4h9M147.7 1547.5h9" stroke="#111" stroke-width="2.2"/><text transform="translate(188.7,1596.9) scale(1,1.04)" text-anchor="middle">01/06</text><text transform="translate(281.3,1596.9) scale(1,1.04)" text-anchor="middle">02/03</text><text transform="translate(376.4,1596.9) scale(1,1.04)" text-anchor="middle">03/02</text><text transform="translate(492.2,1596.9) scale(1,1.04)" text-anchor="middle">04/06</text><text transform="translate(584.8,1596.9) scale(1,1.04)" text-anchor="middle">05/04</text><text transform="translate(677.4,1596.9) scale(1,1.04)" text-anchor="middle">06/01</text><text transform="translate(772.5,1596.9) scale(1,1.04)" text-anchor="middle">07/06</text><text transform="translate(842,1596.9) scale(1,1.04)" text-anchor="middle">07/20</text><text transform="translate(137.8,1325.1)" text-anchor="end">10</text><text transform="translate(139.5,1348.2)" text-anchor="end">0</text><text transform="translate(136.6,1371.3)" text-anchor="end">−10</text><text transform="translate(136.6,1394.4)" text-anchor="end">−20</text><text transform="translate(136.6,1417.4)" text-anchor="end">−30</text><text transform="translate(136.6,1440.5)" text-anchor="end">−40</text><text transform="translate(136.6,1463.6)" text-anchor="end">−50</text><text transform="translate(136.6,1486.7)" text-anchor="end">−60</text><text transform="translate(136.6,1509.8)" text-anchor="end">−70</text><text transform="translate(136.6,1532.8)" text-anchor="end">−80</text><text transform="translate(136.6,1555.9)" text-anchor="end">−90</text><text transform="translate(49.7,1422.9) rotate(-90) scale(1,1.03)" text-anchor="middle" font-size="25.6">Percent Change of Visits</text><text transform="translate(81,1420.9) rotate(-90) scale(1,1.03)" text-anchor="middle" font-size="25.6">from home CBGs</text></g>
<g font-family="'Liberation Serif', 'Times New Roman', serif" font-size="24" fill="#262626" stroke="#262626" stroke-width="0.3"><text transform="translate(1399,1254.9) scale(1,1.035)" text-anchor="middle" font-size="30.2">Houston</text><line x1="1072.1" y1="1329.5" x2="1723.2" y2="1329.5" stroke="#383838" stroke-width="3.1" stroke-dasharray="3.2 7.02"/><polyline points="1072.2,1305.3 1095.5,1309.5 1118.8,1316.4 1142.2,1326.1 1165.5,1337.4 1188.8,1337.4 1212.1,1344.3 1235.5,1323.3 1258.8,1326.1 1282.1,1369.5 1305.4,1450.3 1328.7,1468.3 1352.1,1471.7 1375.4,1476.1 1398.7,1473.1 1422,1464.8 1445.3,1456.3 1468.7,1433.9 1492,1434.6 1515.3,1425.4 1538.6,1415.7 1562,1412.9 1585.3,1412.9 1608.6,1417 1631.9,1428.4 1655.2,1438 1678.6,1438 1701.9,1436.7 1725.2,1432.5" fill="none" stroke="#0a0868" stroke-width="3.5" stroke-linejoin="round"/><polyline points="1072.2,1296.3 1095.5,1299.8 1118.8,1313.2 1142.2,1316.9 1165.5,1348.5 1188.8,1356.8 1212.1,1366.5 1235.5,1328.9 1258.8,1336 1282.1,1361 1305.4,1432 1328.7,1453 1352.1,1454.9 1375.4,1461.8 1398.7,1459 1422,1448 1445.3,1438 1468.7,1421.2 1492,1424 1515.3,1417 1538.6,1409.9 1562,1407.8 1585.3,1407.8 1608.6,1409.9 1631.9,1424 1655.2,1428.4 1678.6,1429.7 1701.9,1430.2 1725.2,1428.4" fill="none" stroke="#a9cfdb" stroke-width="3.5" stroke-linejoin="round"/><polyline points="1072.2,1303 1095.5,1308.1 1118.8,1316 1142.2,1324.3 1165.5,1344.3 1188.8,1347.1 1212.1,1355.4 1235.5,1326.1 1258.8,1333 1282.1,1365.1 1305.4,1434.8 1328.7,1455.8 1352.1,1459.3 1375.4,1463.4 1398.7,1460.4 1422,1450.7 1445.3,1443.8 1468.7,1424 1492,1425.4 1515.3,1418 1538.6,1411.3 1562,1408.5 1585.3,1408.5 1608.6,1411.3 1631.9,1425.4 1655.2,1429.7 1678.6,1431.1 1701.9,1431.1 1725.2,1429.7" fill="none" stroke="#1874d2" stroke-width="3.5" stroke-linejoin="round"/><polyline points="1072.2,1294 1095.5,1297 1118.8,1310.9 1142.2,1313.6 1165.5,1352.6 1188.8,1366.5 1212.1,1380.6 1235.5,1336 1258.8,1349.9 1282.1,1369.5 1305.4,1430.7 1328.7,1448.9 1352.1,1451.9 1375.4,1459 1398.7,1456.3 1422,1445.2 1445.3,1436.7 1468.7,1424 1492,1427 1515.3,1420.7 1538.6,1415.7 1562,1414.3 1585.3,1415.7 1608.6,1418.4 1631.9,1427 1655.2,1433.9 1678.6,1438 1701.9,1436.7 1725.2,1431.1" fill="none" stroke="#d77474" stroke-width="3.5" stroke-linejoin="round"/><polyline points="1072.2,1291.3 1095.5,1295.6 1118.8,1309.5 1142.2,1310.9 1165.5,1356.8 1188.8,1370.9 1212.1,1387.5 1235.5,1337.4 1258.8,1352.6 1282.1,1372.3 1305.4,1429.3 1328.7,1446.1 1352.1,1449.4 1375.4,1457.7 1398.7,1454.9 1422,1443.8 1445.3,1435.3 1468.7,1423.5 1492,1428.4 1515.3,1421.2 1538.6,1417 1562,1415.7 1585.3,1417 1608.6,1421.2 1631.9,1428.4 1655.2,1435.3 1678.6,1440.8 1701.9,1438 1725.2,1431.8" fill="none" stroke="#b00c2c" stroke-width="3.5" stroke-linejoin="round"/><polyline points="1072.2,1287.1 1095.5,1293.6 1118.8,1308.1 1142.2,1308.6 1165.5,1363.7 1188.8,1382 1212.1,1401.3 1235.5,1348.5 1258.8,1362.3 1282.1,1376.4 1305.4,1427.9 1328.7,1443.4 1352.1,1448 1375.4,1456.3 1398.7,1453.5 1422,1442.4 1445.3,1433.9 1468.7,1424 1492,1430.2 1515.3,1424 1538.6,1421.2 1562,1419.8 1585.3,1425.4 1608.6,1429.7 1631.9,1433.9 1655.2,1433.9 1678.6,1439.4 1701.9,1438 1725.2,1433.9" fill="none" stroke="#5e0509" stroke-width="3.5" stroke-linejoin="round"/><line x1="1446" y1="1283.6" x2="1446" y2="1537.5" stroke="#777" stroke-width="3"/><line x1="1307.1" y1="1283.6" x2="1307.1" y2="1537.5" stroke="#000" stroke-width="3.4"/><rect x="1039.9" y="1272.2" width="717.1" height="278.1" fill="none" stroke="#111" stroke-width="2.2"/><path d="M1073.2 1550.3v11M1096.3 1550.3v11M1119.5 1550.3v11M1142.6 1550.3v11M1165.8 1550.3v11M1188.9 1550.3v11M1212.1 1550.3v11M1237.7 1550.3v11M1260.8 1550.3v11M1284 1550.3v11M1307.1 1550.3v11M1330.3 1550.3v11M1353.4 1550.3v11M1376.6 1550.3v11M1399.7 1550.3v11M1422.8 1550.3v11M1446 1550.3v11M1469.1 1550.3v11M1492.3 1550.3v11M1515.4 1550.3v11M1538.6 1550.3v11M1561.7 1550.3v11M1584.8 1550.3v11M1608 1550.3v11M1633.6 1550.3v11M1656.8 1550.3v11M1679.9 1550.3v11M1703.1 1550.3v11M1726.2 1550.3v11M1030.9 1306.7h9M1030.9 1329.8h9M1030.9 1352.9h9M1030.9 1376h9M1030.9 1399h9M1030.9 1422.1h9M1030.9 1445.2h9M1030.9 1468.3h9M1030.9 1491.4h9M1030.9 1514.4h9M1030.9 1537.5h9" stroke="#111" stroke-width="2.2"/><text transform="translate(1071.7,1586.6) scale(1,1.04)" text-anchor="middle">01/06</text><text transform="translate(1164.3,1586.6) scale(1,1.04)" text-anchor="middle">02/03</text><text transform="translate(1259.3,1586.6) scale(1,1.04)" text-anchor="middle">03/02</text><text transform="translate(1375.1,1586.6) scale(1,1.04)" text-anchor="middle">04/06</text><text transform="translate(1467.6,1586.6) scale(1,1.04)" text-anchor="middle">05/04</text><text transform="translate(1560.2,1586.6) scale(1,1.04)" text-anchor="middle">06/01</text><text transform="translate(1655.3,1586.6) scale(1,1.04)" text-anchor="middle">07/06</text><text transform="translate(1724.7,1586.6) scale(1,1.04)" text-anchor="middle">07/20</text><text transform="translate(1021,1315.1)" text-anchor="end">10</text><text transform="translate(1022.7,1338.2)" text-anchor="end">0</text><text transform="translate(1019.8,1361.3)" text-anchor="end">−10</text><text transform="translate(1019.8,1384.4)" text-anchor="end">−20</text><text transform="translate(1019.8,1407.4)" text-anchor="end">−30</text><text transform="translate(1019.8,1430.5)" text-anchor="end">−40</text><text transform="translate(1019.8,1453.6)" text-anchor="end">−50</text><text transform="translate(1019.8,1476.7)" text-anchor="end">−60</text><text transform="translate(1019.8,1499.8)" text-anchor="end">−70</text><text transform="translate(1019.8,1522.8)" text-anchor="end">−80</text><text transform="translate(1019.8,1545.9)" text-anchor="end">−90</text><text transform="translate(932.9,1413.2) rotate(-90) scale(1,1.03)" text-anchor="middle" font-size="25.6">Percent Change of Visits</text><text transform="translate(964.2,1411.2) rotate(-90) scale(1,1.03)" text-anchor="middle" font-size="25.6">from home CBGs</text></g>
<g font-family="'Liberation Serif', 'Times New Roman', serif" font-size="24" fill="#262626" stroke="#262626" stroke-width="0.3"><text transform="translate(524.2,1637.3) scale(1,1.035)" text-anchor="middle" font-size="30.2">Los Angeles</text><line x1="198.4" y1="1713.4" x2="848.6" y2="1713.4" stroke="#383838" stroke-width="3.1" stroke-dasharray="3.2 7.02"/><polyline points="198.5,1686.5 221.8,1695.1 245.1,1699.7 268.4,1704.3 291.7,1719.2 314.9,1720.8 338.2,1727 361.5,1713.2 384.8,1713.2 408.1,1741.1 431.4,1852.5 454.7,1865.1 478,1867.9 501.3,1878.9 524.5,1872 547.8,1864.2 571.1,1859.6 594.4,1853.8 617.7,1853.8 641,1848.3 664.3,1846.9 687.6,1840 710.9,1830.1 734.2,1831.5 757.4,1827.4 780.7,1834.5 804,1836.3 827.3,1837.3 850.6,1834.5" fill="none" stroke="#0a0868" stroke-width="3.5" stroke-linejoin="round"/><polyline points="198.5,1676.9 221.8,1686.5 245.1,1696.4 268.4,1704.3 291.7,1722.9 314.9,1728.4 338.2,1741.1 361.5,1712.5 384.8,1718.3 408.1,1741.1 431.4,1837.3 454.7,1848.3 478,1852.5 501.3,1865.1 524.5,1858.2 547.8,1851.1 571.1,1846.9 594.4,1842.8 617.7,1845.5 641,1841.4 664.3,1838 687.6,1835.9 710.9,1828.1 734.2,1828.8 757.4,1826 780.7,1833.1 804,1835.2 827.3,1836.3 850.6,1833.6" fill="none" stroke="#a9cfdb" stroke-width="3.5" stroke-linejoin="round"/><polyline points="198.5,1678.3 221.8,1689.3 245.1,1696.4 268.4,1704.3 291.7,1721.5 314.9,1725.7 338.2,1732.6 361.5,1712.5 384.8,1716 408.1,1741.1 431.4,1841.4 454.7,1852.5 478,1855.2 501.3,1869.2 524.5,1862.3 547.8,1852.5 571.1,1848.3 594.4,1844.2 617.7,1846.5 641,1841.4 664.3,1838.6 687.6,1836.6 710.9,1828.8 734.2,1830.1 757.4,1827.4 780.7,1833.1 804,1835.9 827.3,1837.3 850.6,1834.5" fill="none" stroke="#1874d2" stroke-width="3.5" stroke-linejoin="round"/><polyline points="198.5,1675.5 221.8,1685.2 245.1,1696.4 268.4,1704.3 291.7,1724.7 314.9,1732.6 338.2,1746.6 361.5,1712.5 384.8,1720.8 408.1,1741.1 431.4,1831.5 454.7,1841.4 478,1845.5 501.3,1861 524.5,1853.8 547.8,1845.5 571.1,1842.8 594.4,1838.6 617.7,1841.4 641,1838 664.3,1835.2 687.6,1832.4 710.9,1825.3 734.2,1826 757.4,1823.9 780.7,1831.5 804,1833.1 827.3,1833.6 850.6,1831.5" fill="none" stroke="#d77474" stroke-width="3.5" stroke-linejoin="round"/><polyline points="198.5,1674.6 221.8,1684.7 245.1,1696.4 268.4,1704.3 291.7,1727 314.9,1735.6 338.2,1749.4 361.5,1712.5 384.8,1720.8 408.1,1741.1 431.4,1828.8 454.7,1840 478,1844.2 501.3,1859.6 524.5,1852.5 547.8,1843.5 571.1,1840.7 594.4,1837.3 617.7,1841.4 641,1838 664.3,1835.2 687.6,1832.4 710.9,1825.3 734.2,1826 757.4,1823.9 780.7,1831.5 804,1833.1 827.3,1833.6 850.6,1831.5" fill="none" stroke="#b00c2c" stroke-width="3.5" stroke-linejoin="round"/><polyline points="198.5,1671.8 221.8,1683.1 245.1,1695.1 268.4,1704.3 291.7,1729.8 314.9,1739.7 338.2,1756.3 361.5,1712.5 384.8,1720.1 408.1,1741.1 431.4,1827.4 454.7,1837.3 478,1841.4 501.3,1858.2 524.5,1851.1 547.8,1841.9 571.1,1840 594.4,1838 617.7,1841.9 641,1838.6 664.3,1836.3 687.6,1834.5 710.9,1828.8 734.2,1831.5 757.4,1828.8 780.7,1834.5 804,1836.3 827.3,1837.3 850.6,1835.9" fill="none" stroke="#5e0509" stroke-width="3.5" stroke-linejoin="round"/><line x1="433.1" y1="1667.7" x2="433.1" y2="1920.8" stroke="#000" stroke-width="3.4"/><rect x="166.4" y="1654.6" width="716" height="278.8" fill="none" stroke="#111" stroke-width="2.2"/><path d="M199.5 1933.4v11M222.6 1933.4v11M245.7 1933.4v11M268.8 1933.4v11M291.9 1933.4v11M315.1 1933.4v11M338.2 1933.4v11M363.8 1933.4v11M386.9 1933.4v11M410 1933.4v11M433.1 1933.4v11M456.2 1933.4v11M479.3 1933.4v11M502.4 1933.4v11M525.5 1933.4v11M548.7 1933.4v11M571.8 1933.4v11M594.9 1933.4v11M618 1933.4v11M641.1 1933.4v11M664.2 1933.4v11M687.3 1933.4v11M710.4 1933.4v11M733.5 1933.4v11M759.2 1933.4v11M782.3 1933.4v11M805.4 1933.4v11M828.5 1933.4v11M851.6 1933.4v11M157.4 1690.7h9M157.4 1713.7h9M157.4 1736.7h9M157.4 1759.7h9M157.4 1782.7h9M157.4 1805.7h9M157.4 1828.8h9M157.4 1851.8h9M157.4 1874.8h9M157.4 1897.8h9M157.4 1920.8h9" stroke="#111" stroke-width="2.2"/><text transform="translate(198,1969.7) scale(1,1.04)" text-anchor="middle">01/06</text><text transform="translate(290.4,1969.7) scale(1,1.04)" text-anchor="middle">02/03</text><text transform="translate(385.4,1969.7) scale(1,1.04)" text-anchor="middle">03/02</text><text transform="translate(500.9,1969.7) scale(1,1.04)" text-anchor="middle">04/06</text><text transform="translate(593.4,1969.7) scale(1,1.04)" text-anchor="middle">05/04</text><text transform="translate(685.8,1969.7) scale(1,1.04)" text-anchor="middle">06/01</text><text transform="translate(780.8,1969.7) scale(1,1.04)" text-anchor="middle">07/06</text><text transform="translate(850.1,1969.7) scale(1,1.04)" text-anchor="middle">07/20</text><text transform="translate(147.5,1699.1)" text-anchor="end">10</text><text transform="translate(149.2,1722.1)" text-anchor="end">0</text><text transform="translate(146.3,1745.1)" text-anchor="end">−10</text><text transform="translate(146.3,1768.1)" text-anchor="end">−20</text><text transform="translate(146.3,1791.1)" text-anchor="end">−30</text><text transform="translate(146.3,1814.1)" text-anchor="end">−40</text><text transform="translate(146.3,1837.2)" text-anchor="end">−50</text><text transform="translate(146.3,1860.2)" text-anchor="end">−60</text><text transform="translate(146.3,1883.2)" text-anchor="end">−70</text><text transform="translate(146.3,1906.2)" text-anchor="end">−80</text><text transform="translate(146.3,1929.2)" text-anchor="end">−90</text><text transform="translate(59.4,1796) rotate(-90) scale(1,1.03)" text-anchor="middle" font-size="25.6">Percent Change of Visits</text><text transform="translate(90.7,1794) rotate(-90) scale(1,1.03)" text-anchor="middle" font-size="25.6">from home CBGs</text></g>
<g font-family="'Liberation Serif', 'Times New Roman', serif" font-size="24" fill="#262626" stroke="#262626" stroke-width="0.3"><text transform="translate(1394.5,1641.5) scale(1,1.035)" text-anchor="middle" font-size="30.2">New York</text><line x1="1069.5" y1="1719" x2="1721.1" y2="1719" stroke="#383838" stroke-width="3.1" stroke-dasharray="3.2 7.02"/><polyline points="1069.6,1669 1092.9,1698.5 1116.3,1705.6 1139.6,1706.7 1163,1736.2 1186.3,1750.8 1209.6,1774.6 1233,1717 1256.3,1729.1 1279.7,1755.4 1303,1858.1 1326.3,1884.6 1349.7,1891.2 1373,1893.5 1396.3,1894 1419.7,1889.8 1443,1882.7 1466.4,1886.2 1489.7,1884.1 1513,1880 1536.4,1875.7 1559.7,1880.5 1583.1,1872.9 1606.4,1870.2 1629.7,1861.7 1653.1,1864.5 1676.4,1867.4 1699.8,1861.7 1723.1,1861.7" fill="none" stroke="#0a0868" stroke-width="3.5" stroke-linejoin="round"/><polyline points="1069.6,1682.3 1092.9,1707.9 1116.3,1710.2 1139.6,1705.6 1163,1731.4 1186.3,1743.5 1209.6,1760.9 1233,1720 1256.3,1723.6 1279.7,1739 1303,1833.1 1326.3,1869 1349.7,1873.8 1373,1882.7 1396.3,1881.4 1419.7,1874.3 1443,1867.4 1466.4,1867.4 1489.7,1864.5 1513,1859 1536.4,1854.6 1559.7,1856 1583.1,1848.9 1606.4,1846.2 1629.7,1836.3 1653.1,1840.7 1676.4,1845.5 1699.8,1839.3 1723.1,1837.7" fill="none" stroke="#a9cfdb" stroke-width="3.5" stroke-linejoin="round"/><polyline points="1069.6,1680.9 1092.9,1705.6 1116.3,1707.9 1139.6,1706 1163,1732.6 1186.3,1743.8 1209.6,1762 1233,1718.2 1256.3,1725 1279.7,1742.4 1303,1838.6 1326.3,1872 1349.7,1875.7 1373,1884.1 1396.3,1882.7 1419.7,1875.7 1443,1868.8 1466.4,1868.1 1489.7,1865.8 1513,1861.7 1536.4,1857.4 1559.7,1857.4 1583.1,1850.5 1606.4,1846.9 1629.7,1837.7 1653.1,1842.1 1676.4,1846.2 1699.8,1840 1723.1,1838.4" fill="none" stroke="#1874d2" stroke-width="3.5" stroke-linejoin="round"/><polyline points="1069.6,1682.7 1092.9,1704.4 1116.3,1711.8 1139.6,1704.4 1163,1733.5 1186.3,1748.1 1209.6,1767.3 1233,1714.7 1256.3,1722.7 1279.7,1735.5 1303,1826.1 1326.3,1862.2 1349.7,1869 1373,1880 1396.3,1878.6 1419.7,1870.2 1443,1861.7 1466.4,1863.1 1489.7,1860.8 1513,1857.4 1536.4,1850.5 1559.7,1854.6 1583.1,1846.2 1606.4,1843.4 1629.7,1835 1653.1,1839.3 1676.4,1844.1 1699.8,1837 1723.1,1835" fill="none" stroke="#d77474" stroke-width="3.5" stroke-linejoin="round"/><polyline points="1069.6,1682.7 1092.9,1703.3 1116.3,1712.4 1139.6,1703.8 1163,1734.2 1186.3,1749.5 1209.6,1769.1 1233,1712.7 1256.3,1722.7 1279.7,1734.2 1303,1821.9 1326.3,1859.4 1349.7,1867.9 1373,1878.6 1396.3,1877.3 1419.7,1868.8 1443,1860.3 1466.4,1861.7 1489.7,1859.7 1513,1855.3 1536.4,1848.9 1559.7,1853.3 1583.1,1844.8 1606.4,1842.7 1629.7,1833.6 1653.1,1838.4 1676.4,1843.4 1699.8,1835.7 1723.1,1833.6" fill="none" stroke="#b00c2c" stroke-width="3.5" stroke-linejoin="round"/><polyline points="1069.6,1682.5 1092.9,1701.7 1116.3,1713.4 1139.6,1703.1 1163,1734.4 1186.3,1750.4 1209.6,1781.7 1233,1708.1 1256.3,1722.7 1279.7,1732.8 1303,1816.2 1326.3,1849.8 1349.7,1858.7 1373,1871.5 1396.3,1871.5 1419.7,1864.5 1443,1856.9 1466.4,1859.7 1489.7,1858.1 1513,1853.3 1536.4,1846.2 1559.7,1851.9 1583.1,1843.4 1606.4,1841.1 1629.7,1833.6 1653.1,1837.3 1676.4,1844.8 1699.8,1836.3 1723.1,1835" fill="none" stroke="#5e0509" stroke-width="3.5" stroke-linejoin="round"/><line x1="1304.7" y1="1673.6" x2="1304.7" y2="1925" stroke="#000" stroke-width="3.4"/><rect x="1037.4" y="1658.8" width="716.8" height="278.5" fill="none" stroke="#111" stroke-width="2.2"/><path d="M1070.6 1937.3v11M1093.8 1937.3v11M1116.9 1937.3v11M1140.1 1937.3v11M1163.2 1937.3v11M1186.4 1937.3v11M1209.6 1937.3v11M1235.2 1937.3v11M1258.4 1937.3v11M1281.5 1937.3v11M1304.7 1937.3v11M1327.9 1937.3v11M1351 1937.3v11M1374.2 1937.3v11M1397.3 1937.3v11M1420.5 1937.3v11M1443.7 1937.3v11M1466.8 1937.3v11M1490 1937.3v11M1513.2 1937.3v11M1536.3 1937.3v11M1559.5 1937.3v11M1582.6 1937.3v11M1605.8 1937.3v11M1631.5 1937.3v11M1654.6 1937.3v11M1677.8 1937.3v11M1700.9 1937.3v11M1724.1 1937.3v11M1028.4 1696.4h9M1028.4 1719.3h9M1028.4 1742.2h9M1028.4 1765h9M1028.4 1787.9h9M1028.4 1810.7h9M1028.4 1833.6h9M1028.4 1856.5h9M1028.4 1879.3h9M1028.4 1902.2h9M1028.4 1925h9" stroke="#111" stroke-width="2.2"/><text transform="translate(1069.1,1973.6) scale(1,1.04)" text-anchor="middle">01/06</text><text transform="translate(1161.7,1973.6) scale(1,1.04)" text-anchor="middle">02/03</text><text transform="translate(1256.9,1973.6) scale(1,1.04)" text-anchor="middle">03/02</text><text transform="translate(1372.7,1973.6) scale(1,1.04)" text-anchor="middle">04/06</text><text transform="translate(1465.3,1973.6) scale(1,1.04)" text-anchor="middle">05/04</text><text transform="translate(1558,1973.6) scale(1,1.04)" text-anchor="middle">06/01</text><text transform="translate(1653.1,1973.6) scale(1,1.04)" text-anchor="middle">07/06</text><text transform="translate(1722.6,1973.6) scale(1,1.04)" text-anchor="middle">07/20</text><text transform="translate(1018.5,1704.8)" text-anchor="end">10</text><text transform="translate(1020.2,1727.7)" text-anchor="end">0</text><text transform="translate(1017.3,1750.6)" text-anchor="end">−10</text><text transform="translate(1017.3,1773.4)" text-anchor="end">−20</text><text transform="translate(1017.3,1796.3)" text-anchor="end">−30</text><text transform="translate(1017.3,1819.1)" text-anchor="end">−40</text><text transform="translate(1017.3,1842)" text-anchor="end">−50</text><text transform="translate(1017.3,1864.9)" text-anchor="end">−60</text><text transform="translate(1017.3,1887.7)" text-anchor="end">−70</text><text transform="translate(1017.3,1910.6)" text-anchor="end">−80</text><text transform="translate(1017.3,1933.4)" text-anchor="end">−90</text><text transform="translate(930.4,1800) rotate(-90) scale(1,1.03)" text-anchor="middle" font-size="25.6">Percent Change of Visits</text><text transform="translate(961.7,1798) rotate(-90) scale(1,1.03)" text-anchor="middle" font-size="25.6">from home CBGs</text></g>
<g font-family="'Liberation Serif', 'Times New Roman', serif" font-size="24" fill="#262626" stroke="#262626" stroke-width="0.3"><text transform="translate(945.7,2003.1) scale(1,1.035)" text-anchor="middle" font-size="30.2">Seattle</text><line x1="619.1" y1="2078.1" x2="1270.5" y2="2078.1" stroke="#383838" stroke-width="3.1" stroke-dasharray="3.2 7.02"/><polyline points="619.2,2057.4 642.5,2088.1 665.9,2062.2 689.2,2073.3 712.5,2090.2 735.9,2094.3 759.2,2110.9 782.5,2088.8 805.9,2119.5 829.2,2147.2 852.5,2222.4 875.9,2243.4 899.2,2246.9 922.5,2243.4 945.9,2242 969.2,2241.6 992.5,2239.3 1015.8,2224.7 1039.2,2231 1062.5,2225.9 1085.8,2224.7 1109.2,2218.3 1132.5,2205.8 1155.8,2196.1 1179.2,2193.3 1202.5,2201.6 1225.8,2197.5 1249.2,2196.1 1272.5,2194" fill="none" stroke="#0a0868" stroke-width="3.5" stroke-linejoin="round"/><polyline points="619.2,2042.6 642.5,2071.9 665.9,2063.6 689.2,2070.6 712.5,2094.3 735.9,2099.9 759.2,2116.5 782.5,2081.6 805.9,2110.9 829.2,2138.9 852.5,2203 875.9,2225.4 899.2,2228 922.5,2225.4 945.9,2225.4 969.2,2224 992.5,2221 1015.8,2211.3 1039.2,2218.3 1062.5,2212.7 1085.8,2214.1 1109.2,2208.6 1132.5,2200.3 1155.8,2194.7 1179.2,2192 1202.5,2196.1 1225.8,2197.5 1249.2,2196.1 1272.5,2194.7" fill="none" stroke="#a9cfdb" stroke-width="3.5" stroke-linejoin="round"/><polyline points="619.2,2045.4 642.5,2074.7 665.9,2063.6 689.2,2071.9 712.5,2091.6 735.9,2098.5 759.2,2113.7 782.5,2083.2 805.9,2113.7 829.2,2141.6 852.5,2208.6 875.9,2232.3 899.2,2235.8 922.5,2232.3 945.9,2231 969.2,2229.6 992.5,2226.8 1015.8,2216.9 1039.2,2222.4 1062.5,2216.9 1085.8,2216.9 1109.2,2211.3 1132.5,2204.4 1155.8,2196.1 1179.2,2193.3 1202.5,2200.3 1225.8,2197.5 1249.2,2197.5 1272.5,2194.7" fill="none" stroke="#1874d2" stroke-width="3.5" stroke-linejoin="round"/><polyline points="619.2,2037.3 642.5,2062.2 665.9,2062.2 689.2,2067.8 712.5,2097.1 735.9,2102.6 759.2,2119.5 782.5,2074.7 805.9,2108.2 829.2,2136.1 852.5,2192 875.9,2218.3 899.2,2220.3 922.5,2219.6 945.9,2219.2 969.2,2216.9 992.5,2212.7 1015.8,2204.4 1039.2,2211.3 1062.5,2207.2 1085.8,2208.6 1109.2,2203 1132.5,2194.7 1155.8,2187.6 1179.2,2186.2 1202.5,2193.3 1225.8,2192 1249.2,2190.3 1272.5,2189" fill="none" stroke="#d77474" stroke-width="3.5" stroke-linejoin="round"/><polyline points="619.2,2035.9 642.5,2060.9 665.9,2061.3 689.2,2066.4 712.5,2098.5 735.9,2104.9 759.2,2120.9 782.5,2070.6 805.9,2106.8 829.2,2131.9 852.5,2186.2 875.9,2207.2 899.2,2210.6 922.5,2212.7 945.9,2212.7 969.2,2208.6 992.5,2205.8 1015.8,2201.6 1039.2,2207.2 1062.5,2203 1085.8,2204.4 1109.2,2200.3 1132.5,2190.6 1155.8,2183 1179.2,2182 1202.5,2189.6 1225.8,2186.2 1249.2,2186.2 1272.5,2183.4" fill="none" stroke="#b00c2c" stroke-width="3.5" stroke-linejoin="round"/><polyline points="619.2,2035.2 642.5,2059.5 665.9,2060.2 689.2,2065 712.5,2099.9 735.9,2108.2 759.2,2123.6 782.5,2067.8 805.9,2102.6 829.2,2126.4 852.5,2180.6 875.9,2201.6 899.2,2205.8 922.5,2210.9 945.9,2210 969.2,2207.2 992.5,2204.4 1015.8,2197.5 1039.2,2205.8 1062.5,2201.6 1085.8,2203 1109.2,2197.5 1132.5,2196.1 1155.8,2189 1179.2,2186.2 1202.5,2190.3 1225.8,2196.1 1249.2,2193.3 1272.5,2190.3" fill="none" stroke="#5e0509" stroke-width="3.5" stroke-linejoin="round"/><line x1="1108.9" y1="2032.2" x2="1108.9" y2="2286.1" stroke="#777" stroke-width="3"/><line x1="854.2" y1="2032.2" x2="854.2" y2="2286.1" stroke="#000" stroke-width="3.4"/><rect x="586.4" y="2020.4" width="717.9" height="277.4" fill="none" stroke="#111" stroke-width="2.2"/><path d="M620.2 2297.8v11M643.4 2297.8v11M666.5 2297.8v11M689.7 2297.8v11M712.8 2297.8v11M736 2297.8v11M759.1 2297.8v11M784.8 2297.8v11M807.9 2297.8v11M831.1 2297.8v11M854.2 2297.8v11M877.4 2297.8v11M900.5 2297.8v11M923.7 2297.8v11M946.9 2297.8v11M970 2297.8v11M993.2 2297.8v11M1016.3 2297.8v11M1039.5 2297.8v11M1062.6 2297.8v11M1085.8 2297.8v11M1108.9 2297.8v11M1132.1 2297.8v11M1155.2 2297.8v11M1180.9 2297.8v11M1204 2297.8v11M1227.2 2297.8v11M1250.3 2297.8v11M1273.5 2297.8v11M577.4 2055.3h9M577.4 2078.4h9M577.4 2101.5h9M577.4 2124.6h9M577.4 2147.6h9M577.4 2170.7h9M577.4 2193.8h9M577.4 2216.9h9M577.4 2240h9M577.4 2263h9M577.4 2286.1h9" stroke="#111" stroke-width="2.2"/><text transform="translate(618.7,2334.1) scale(1,1.04)" text-anchor="middle">01/06</text><text transform="translate(711.3,2334.1) scale(1,1.04)" text-anchor="middle">02/03</text><text transform="translate(806.4,2334.1) scale(1,1.04)" text-anchor="middle">03/02</text><text transform="translate(922.2,2334.1) scale(1,1.04)" text-anchor="middle">04/06</text><text transform="translate(1014.8,2334.1) scale(1,1.04)" text-anchor="middle">05/04</text><text transform="translate(1107.4,2334.1) scale(1,1.04)" text-anchor="middle">06/01</text><text transform="translate(1202.5,2334.1) scale(1,1.04)" text-anchor="middle">07/06</text><text transform="translate(1272,2334.1) scale(1,1.04)" text-anchor="middle">07/20</text><text transform="translate(567.5,2063.7)" text-anchor="end">10</text><text transform="translate(569.2,2086.8)" text-anchor="end">0</text><text transform="translate(566.3,2109.9)" text-anchor="end">−10</text><text transform="translate(566.3,2133)" text-anchor="end">−20</text><text transform="translate(566.3,2156)" text-anchor="end">−30</text><text transform="translate(566.3,2179.1)" text-anchor="end">−40</text><text transform="translate(566.3,2202.2)" text-anchor="end">−50</text><text transform="translate(566.3,2225.3)" text-anchor="end">−60</text><text transform="translate(566.3,2248.4)" text-anchor="end">−70</text><text transform="translate(566.3,2271.4)" text-anchor="end">−80</text><text transform="translate(566.3,2294.5)" text-anchor="end">−90</text><text transform="translate(479.4,2161.1) rotate(-90) scale(1,1.03)" text-anchor="middle" font-size="25.6">Percent Change of Visits</text><text transform="translate(510.7,2159.1) rotate(-90) scale(1,1.03)" text-anchor="middle" font-size="25.6">from home CBGs</text></g>
<g font-family="'Liberation Serif', 'Times New Roman', serif" font-size="24" fill="#111"><rect x="623.5" y="2390" width="655" height="83" rx="3.5" fill="#fff" stroke="#ccc" stroke-width="1.6"/><line x1="630.8" y1="2411.4" x2="685.9" y2="2411.4" stroke="#5e0509" stroke-width="4"/><text transform="translate(704,2419.6) scale(1,1.07)" font-size="25">0-16th</text><line x1="630.8" y1="2449.6" x2="685.9" y2="2449.6" stroke="#b00c2c" stroke-width="4"/><text transform="translate(705.5,2457.8) scale(1,1.07)" font-size="25">16th-33rd</text><line x1="853.9" y1="2411.4" x2="909.7" y2="2411.4" stroke="#d77474" stroke-width="4"/><text transform="translate(929.9,2419.6) scale(1,1.07)" font-size="25">33rd-50th</text><line x1="853.9" y1="2449.6" x2="909.7" y2="2449.6" stroke="#a9cfdb" stroke-width="4"/><text transform="translate(929.9,2457.8) scale(1,1.07)" font-size="25">50th-66th</text><line x1="1079.8" y1="2411.4" x2="1135.6" y2="2411.4" stroke="#1874d2" stroke-width="4"/><text transform="translate(1153.6,2419.6) scale(1,1.07)" font-size="25">66th-83rd</text><line x1="1079.8" y1="2449.6" x2="1135.6" y2="2449.6" stroke="#0a0868" stroke-width="4"/><text transform="translate(1153.6,2457.8) scale(1,1.07)" font-size="25">83rd-100th</text></g>
</svg>
</div></body></html>
